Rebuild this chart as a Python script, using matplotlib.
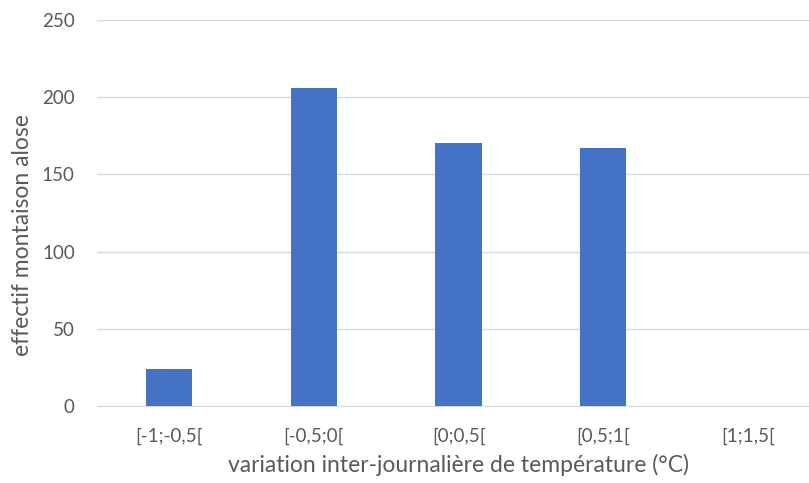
import matplotlib.pyplot as plt
import numpy as np

# classes de variation inter-journaliere et effectifs d'alose
classes = ['[-1;-0,5[', '[-0,5;0[', '[0;0,5[', '[0,5;1[', '[1;1,5[']
effectifs = [24, 206, 170, 167, 0]
yticks = [0, 50, 100, 150, 200, 250]

grey = '#595959'
plt.rcParams['font.family'] = ['Lato', 'DejaVu Sans']

fig = plt.figure(figsize=(8.09, 4.83), dpi=100)
ax = fig.add_axes([0.1199, 0.1584, 0.8937, 0.8012])

x = np.arange(len(classes))
ax.bar(x, effectifs, width=0.32, color='#4472C4', zorder=3)

ax.set_xlim(-0.5, len(classes) - 0.5)
ax.set_ylim(0, 250)
ax.set_yticks(yticks)
ax.set_xticks(x)
ax.set_xticklabels(classes)
ax.grid(axis='y', color='#d9d9d9', linewidth=1, zorder=0)
for s in ['top', 'right', 'left']:
    ax.spines[s].set_visible(False)
ax.spines['bottom'].set_color('#d9d9d9')
ax.tick_params(axis='both', length=0, labelsize=13.5, colors=grey)
ax.tick_params(axis='x', pad=15)
ax.tick_params(axis='y', pad=16)

ax.set_xlabel('variation inter-journalière de température (°C)', fontsize=16.5, color=grey, labelpad=7)
ax.set_ylabel('effectif montaison alose', fontsize=16.5, color=grey)
ax.yaxis.set_label_coords(-0.089, 0.442)

fig.savefig('out.png', dpi=100)
